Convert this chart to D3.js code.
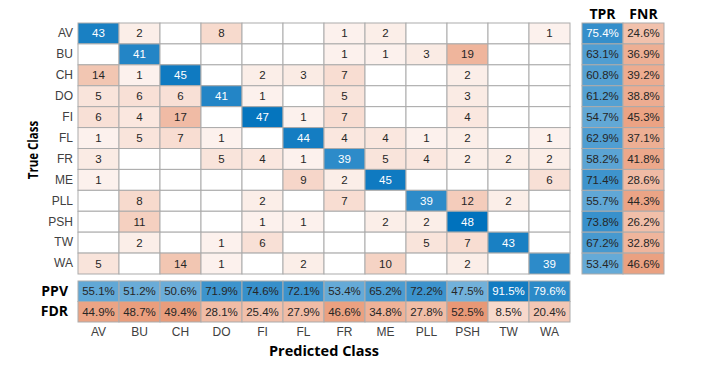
<!DOCTYPE html>
<html><head><meta charset="utf-8">
<script src="https://cdn.jsdelivr.net/npm/d3@7"></script>
<style>body{margin:0;background:#fff}svg{display:block}</style>
</head><body><svg id="c" width="709" height="366"></svg>
<script>
const classes = ["AV","BU","CH","DO","FI","FL","FR","ME","PLL","PSH","TW","WA"];
const counts = [
 [43,2,0,8,0,0,1,2,0,0,0,1],
 [0,41,0,0,0,0,1,1,3,19,0,0],
 [14,1,45,0,2,3,7,0,0,2,0,0],
 [5,6,6,41,1,0,5,0,0,3,0,0],
 [6,4,17,0,47,1,7,0,0,4,0,0],
 [1,5,7,1,0,44,4,4,1,2,0,1],
 [3,0,0,5,4,1,39,5,4,2,2,2],
 [1,0,0,0,0,9,2,45,0,0,0,6],
 [0,8,0,0,2,0,7,0,39,12,2,0],
 [0,11,0,0,1,1,0,2,2,48,0,0],
 [0,2,0,1,6,0,0,0,5,7,43,0],
 [5,0,14,1,0,2,0,10,0,2,0,39]
];
const tpr = [75.4,63.1,60.8,61.2,54.7,62.9,58.2,71.4,55.7,73.8,67.2,53.4];
const fnr = [24.6,36.9,39.2,38.8,45.3,37.1,41.8,28.6,44.3,26.2,32.8,46.6];
const ppv = [55.1,51.2,50.6,71.9,74.6,72.1,53.4,65.2,72.2,47.5,91.5,79.6];
const fdr = [44.9,48.7,49.4,28.1,25.4,27.9,46.6,34.8,27.8,52.5,8.5,20.4];

const svg = d3.select("#c");
const blue = "#0072BD", red = "#D95319";
const maxV = d3.max(counts.flat());
const x = d3.scaleBand().domain(classes).range([78,570]);
const y = d3.scaleBand().domain(classes).range([23,274]);
const xs = d3.scaleBand().domain(["TPR","FNR"]).range([582,664]);
const ys = d3.scaleBand().domain(["PPV","FDR"]).range([281,322]);
const grid = "#ababab";
const tickFont = "'Liberation Sans', Arial, sans-serif";
const boldFont = "'Open Sans', sans-serif";
const cellCol = (v,diag) => v===0 ? "#ffffff" : d3.interpolateRgb("#ffffff", diag?blue:red)(0.06+0.94*v/maxV);
const pctCol = (p,c) => d3.interpolateRgb("#ffffff", c)(0.15+0.85*p/100);

// matrix cells
const cells = [];
counts.forEach((row,i)=>row.forEach((v,j)=>cells.push({r:classes[i],c:classes[j],v,diag:i===j})));
const g = svg.append("g");
g.selectAll("rect").data(cells).join("rect")
 .attr("x",d=>x(d.c)).attr("y",d=>y(d.r)).attr("width",x.bandwidth()).attr("height",y.bandwidth())
 .attr("fill",d=>cellCol(d.v,d.diag)).attr("stroke",grid).attr("stroke-width",1);
g.selectAll("text").data(cells.filter(d=>d.v>0)).join("text")
 .attr("x",d=>x(d.c)+x.bandwidth()/2).attr("y",d=>y(d.r)+y.bandwidth()/2)
 .attr("text-anchor","middle").attr("dominant-baseline","central")
 .attr("font-family",tickFont).attr("font-size",11.5)
 .attr("fill",d=>d.diag?"#ffffff":"#262626").text(d=>d.v);

// TPR/FNR
const rowSum = [];
classes.forEach((cl,i)=>{rowSum.push({k:"TPR",r:cl,p:tpr[i]});rowSum.push({k:"FNR",r:cl,p:fnr[i]});});
const gs = svg.append("g");
gs.selectAll("rect").data(rowSum).join("rect")
 .attr("x",d=>xs(d.k)).attr("y",d=>y(d.r)).attr("width",xs.bandwidth()).attr("height",y.bandwidth())
 .attr("fill",d=>pctCol(d.p,d.k==="TPR"?blue:red)).attr("stroke",grid);
gs.selectAll("text").data(rowSum).join("text")
 .attr("x",d=>xs(d.k)+xs.bandwidth()/2).attr("y",d=>y(d.r)+y.bandwidth()/2)
 .attr("text-anchor","middle").attr("dominant-baseline","central")
 .attr("font-family",tickFont).attr("font-size",11.5)
 .attr("fill",d=>d.k==="TPR"&&d.p>75?"#ffffff":"#262626").text(d=>d.p.toFixed(1)+"%");

// PPV/FDR
const colSum = [];
classes.forEach((cl,j)=>{colSum.push({k:"PPV",c:cl,p:ppv[j]});colSum.push({k:"FDR",c:cl,p:fdr[j]});});
const gc = svg.append("g");
gc.selectAll("rect").data(colSum).join("rect")
 .attr("x",d=>x(d.c)).attr("y",d=>ys(d.k)).attr("width",x.bandwidth()).attr("height",ys.bandwidth())
 .attr("fill",d=>pctCol(d.p,d.k==="PPV"?blue:red)).attr("stroke",grid);
gc.selectAll("text").data(colSum).join("text")
 .attr("x",d=>x(d.c)+x.bandwidth()/2).attr("y",d=>ys(d.k)+ys.bandwidth()/2)
 .attr("text-anchor","middle").attr("dominant-baseline","central")
 .attr("font-family",tickFont).attr("font-size",11.5)
 .attr("fill",d=>d.k==="PPV"&&d.p>75?"#ffffff":"#262626").text(d=>d.p.toFixed(1)+"%");

// axes
const yAxis = svg.append("g").attr("transform","translate(78,0)").call(d3.axisLeft(y).tickSize(0).tickPadding(5));
yAxis.select(".domain").remove();
yAxis.selectAll("text").attr("font-family",tickFont).attr("font-size",12).attr("fill","#404040");
const xAxis = svg.append("g").attr("transform","translate(0,322)").call(d3.axisBottom(x).tickSize(0).tickPadding(5));
xAxis.select(".domain").remove();
xAxis.selectAll("text").attr("font-family",tickFont).attr("font-size",12).attr("fill","#404040");
const sxAxis = svg.append("g").attr("transform","translate(0,23)").call(d3.axisTop(xs).tickSize(0).tickPadding(4));
sxAxis.select(".domain").remove();
sxAxis.selectAll("text").attr("font-family",boldFont).attr("font-weight",700).attr("font-size",14).attr("fill","#000");
const syAxis = svg.append("g").attr("transform","translate(78,0)").call(d3.axisLeft(ys).tickSize(0).tickPadding(10));
syAxis.select(".domain").remove();
syAxis.selectAll("text").attr("font-family",boldFont).attr("font-weight",700).attr("font-size",14).attr("fill","#000");

svg.append("text").attr("x",324).attr("y",356).attr("text-anchor","middle")
 .attr("font-family",boldFont).attr("font-weight",700).attr("font-size",14.5).text("Predicted Class");
svg.append("text").attr("transform","translate(38,150) rotate(-90) scale(0.82,1)").attr("text-anchor","middle")
 .attr("font-family",boldFont).attr("font-weight",700).attr("font-size",14).text("True Class");
</script></body></html>
